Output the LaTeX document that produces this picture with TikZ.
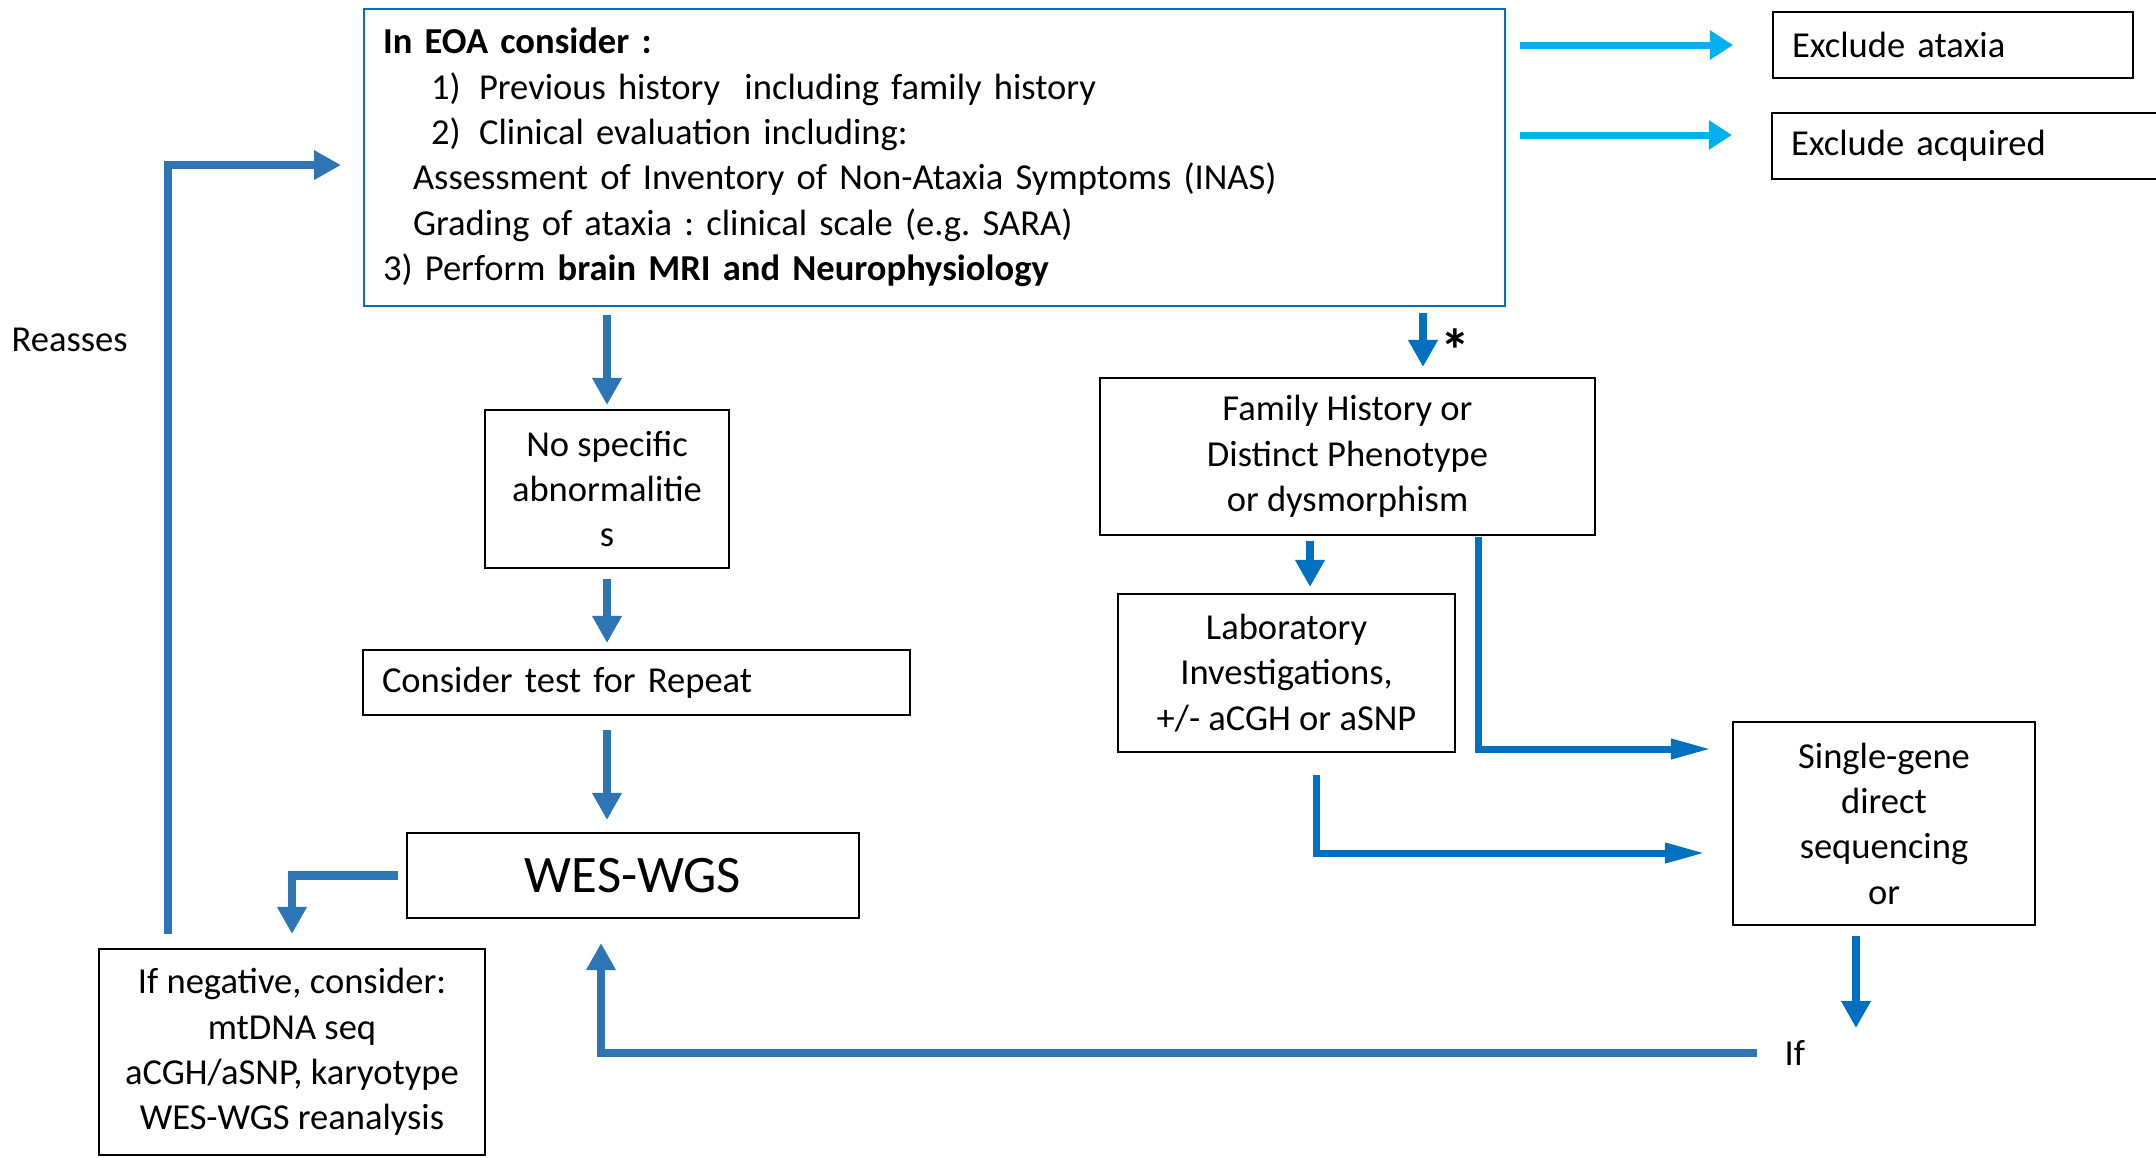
\documentclass[tikz,border=0pt]{standalone}
\usepackage{fontspec}
\setmainfont{Carlito}
\usetikzlibrary{arrows.meta}
\definecolor{darkbl}{RGB}{46,117,182}
\definecolor{midbl}{RGB}{0,112,192}
\definecolor{lightbl}{RGB}{0,176,240}
\frenchspacing

\begin{document}
\begin{tikzpicture}[y=-1cm,
  box/.style={draw, line width=0.6pt, inner sep=0pt, align=center,
    font=\fontsize{10.4}{12.9}\selectfont},
  lbox/.style={box, align=left, inner xsep=0.19cm},
  lbl/.style={inner sep=0pt, font=\fontsize{10.4}{12.9}\selectfont},
  dk/.style={draw=darkbl, line width=0.085cm, -{Triangle[length=0.27cm,width=0.28cm]}},
  rb/.style={draw=midbl, line width=0.085cm, -{Triangle[length=0.27cm,width=0.28cm]}},
  rbel/.style={draw=midbl, line width=0.07cm, -{Triangle[length=0.4cm,width=0.19cm]}},
  lb/.style={draw=lightbl, line width=0.07cm, -{Triangle[length=0.23cm,width=0.28cm]}}]
\useasboundingbox (0,0) rectangle (21.56,11.57);

% boxes
\node[lbox, draw=midbl, anchor=north west, text width=11.03cm, minimum height=2.97cm] (eoa) at (3.63,0.08)
  {\textbf{In EOA consider :}\\
   \hspace*{0.48cm}\makebox[0.48cm][l]{1)}Previous history\ \ including family history\\
   \hspace*{0.48cm}\makebox[0.48cm][l]{2)}Clinical evaluation including:\\
   \hspace*{0.3cm}Assessment of Inventory of Non-Ataxia Symptoms (INAS)\\
   \hspace*{0.3cm}Grading of ataxia : clinical scale (e.g. SARA)\\
   3) Perform \textbf{brain MRI and Neurophysiology}};
\node[lbox, text width=3.22cm, minimum height=0.66cm] (ataxia) at (19.53,0.45) {Exclude ataxia};
\node[lbox, text width=3.62cm, minimum height=0.66cm] (acquired) at (19.72,1.46) {Exclude acquired};
\node[box, minimum width=2.44cm, minimum height=1.58cm] (nospec) at (6.07,4.89) {No specific\\abnormalitie\\s};
\node[lbox, text width=5.09cm, minimum height=0.65cm] (consider) at (6.365,6.825) {Consider test for Repeat};
\node[box, minimum width=4.52cm, minimum height=0.85cm, font=\fontsize{15}{18}\selectfont] (wes) at (6.33,8.755) {WES-WGS};
\node[box, minimum width=3.86cm, minimum height=2.06cm] (ifneg) at (2.92,10.52)
  {If negative, consider:\\mtDNA seq\\aCGH/aSNP, karyotype\\WES-WGS reanalysis};
\node[box, minimum width=4.95cm, minimum height=1.57cm] (family) at (13.475,4.565)
  {Family History or\\Distinct Phenotype\\or dysmorphism};
\node[box, minimum width=3.37cm, minimum height=1.58cm] (lab) at (12.865,6.73)
  {Laboratory\\Investigations,\\+/- aCGH or aSNP};
\node[box, minimum width=3.02cm, minimum height=2.03cm] (single) at (18.84,8.235)
  {Single-gene\\direct\\sequencing\\or};

% labels
\node[lbl, anchor=west] (reasses) at (0.11,3.40) {Reasses};
\node[lbl, anchor=west] (iflbl) at (17.84,10.53) {If};
\node[lbl, font=\fontsize{17}{17}\selectfont\bfseries] (star) at (14.55,3.50) {*};
\coordinate (loopstart) at (1.68,9.34);
\coordinate (ifdown) at (18.56,10.28);

% connectors
\draw[lb, shorten <=0.14cm, shorten >=0.39cm] (eoa.east |- ataxia.west) -- (ataxia.west);
\draw[lb, shorten <=0.14cm, shorten >=0.39cm] ([yshift=0.11cm]eoa.east |- acquired.west) -- ([yshift=0.11cm]acquired.west);
\draw[dk, shorten >=0.22cm] (loopstart) |- ([yshift=-0.075cm]eoa.west);
\draw[dk, shorten <=0.08cm, shorten >=0.04cm] (nospec.north |- eoa.south) -- (nospec.north);
\draw[dk, shorten <=0.1cm, shorten >=0.06cm] (nospec.south) -- (nospec.south |- consider.north);
\draw[dk, shorten <=0.14cm, shorten >=0.12cm] (nospec.south |- consider.south) -- (nospec.south |- wes.north);
\draw[dk, shorten <=0.08cm, shorten >=0.14cm] (wes.west) -| (ifneg.north);
\draw[dk, shorten <=0.27cm, shorten >=0.24cm] (iflbl.west) -| ([xshift=-0.32cm]wes.south);
\draw[rb, shorten <=0.06cm, shorten >=0.1cm] ([xshift=0.755cm]family.north |- eoa.south) -- ([xshift=0.755cm]family.north);
\draw[rb, shorten <=0.05cm, shorten >=0.06cm] ([xshift=0.235cm]lab.north |- family.south) -- ([xshift=0.235cm]lab.north);
\draw[rbel, shorten <=0.01cm, shorten >=0.21cm] ([xshift=1.305cm]family.south) |- ([yshift=0.745cm]single.west);
\draw[rbel, shorten <=0.22cm, shorten >=0.27cm] ([xshift=0.295cm]lab.south) |- ([yshift=-0.295cm]single.west);
\draw[rb, shorten <=0.1cm] ([xshift=-0.28cm]single.south) -- (ifdown);
\end{tikzpicture}
\end{document}
